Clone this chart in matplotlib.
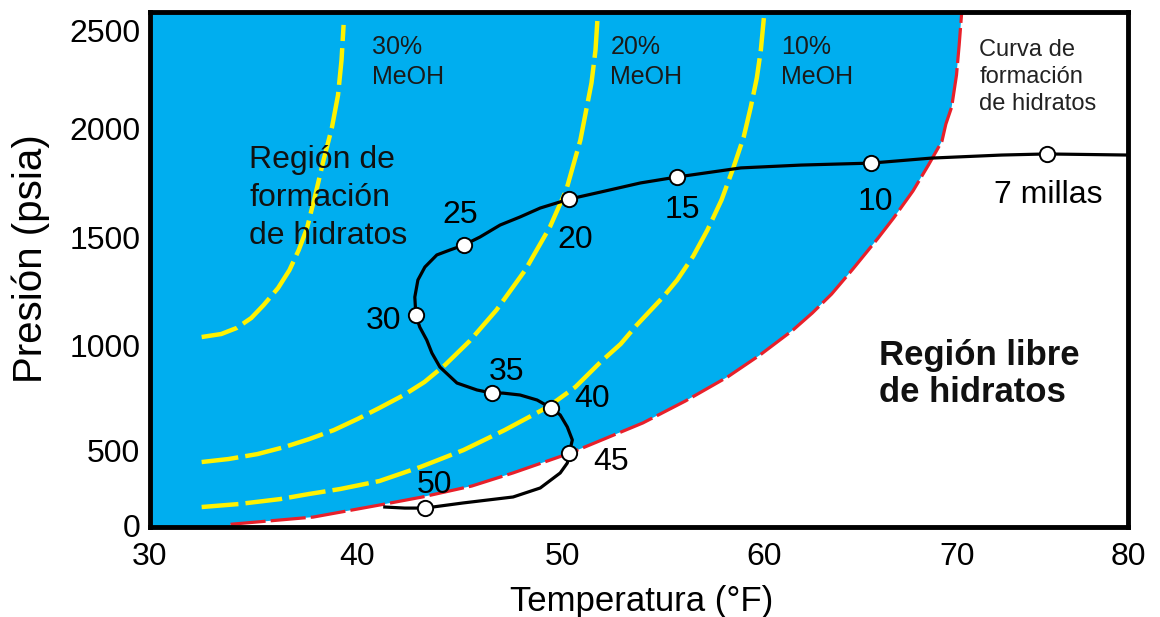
import numpy as np
import matplotlib
matplotlib.use('Agg')
import matplotlib.pyplot as plt

plt.rcParams['font.family'] = ['Liberation Sans', 'DejaVu Sans']

# Printed axis calibration: the tick spacing of the original diagram is not even,
# so both axes use a piecewise-linear scale through these anchors.
temp_ticks = [30, 40, 50, 60, 70, 80]
temp_marks = [151, 357, 562, 763, 956, 1126]
pres_ticks = [-500, 0, 500, 1000, 1500, 2000, 2500, 3000]
pres_marks = [-75, 0, 75, 180, 288, 397, 495, 593]

# Hydrate formation curve (°F, psia)
T_hyd = [33.9, 37.9, 41.1, 43.2, 45.6, 47.6, 50.4, 54.0, 56.1, 58.2, 59.8, 61.5,
         62.5, 63.5, 64.6, 65.9, 66.7, 67.7, 68.5, 69.2, 69.4, 69.7, 69.95,
         70.1, 70.25]
P_hyd = [5, 53, 133, 187, 260, 347, 480, 629, 733, 848, 952, 1069,
         1148, 1236, 1352, 1495, 1587, 1711, 1830, 1940, 2020, 2107, 2270,
         2423, 2592]

# Hydrate curves with methanol
T_10 = [32.5, 34.3, 36.3, 37.7, 39.2, 41.1, 43.1, 45.2, 47.2, 49.3, 50.65, 51.9, 52.9,
        53.7, 55.0, 55.7, 56.5, 57.2, 57.9, 58.5, 59.0, 59.35, 59.65, 59.85, 60.0]
P_10 = [120, 140, 173, 207, 240, 293, 387, 500, 595, 705, 800, 919, 1005,
        1093, 1222, 1301, 1412, 1532, 1670, 1821, 1959, 2107, 2255, 2398, 2561]
T_20 = [32.5, 33.8, 35.2, 36.5, 37.7, 38.9, 40.05, 41.1, 42.3, 43.3, 44.3, 45.5,
        46.8, 48.2, 49.4, 50.2, 50.9, 51.45, 51.65, 51.75]
P_20 = [420, 440, 473, 514, 552, 595, 648, 700, 762, 824, 905, 1019,
        1162, 1347, 1546, 1716, 1945, 2230, 2398, 2561]
T_30 = [32.5, 33.45, 34.2, 34.9, 35.5, 36.2, 36.75, 37.2, 37.6, 38.0, 38.4,
        38.8, 39.1, 39.27, 39.37]
P_30 = [1037, 1051, 1079, 1125, 1185, 1264, 1347, 1440, 1541, 1693, 1853,
        2000, 2168, 2347, 2526]

# Pipeline pressure/temperature profile
T_line = [41.37, 42.34, 43.32, 45.17, 46.39, 47.61, 48.93, 49.9, 50.25, 50.35,
          50.5, 50.25, 49.9, 49.46, 48.78, 47.95, 47.12, 46.59, 45.85, 44.88,
          44.05, 43.66, 43.41, 43.07, 42.88, 42.83, 42.98, 43.32, 43.9, 44.54,
          45.22, 46.0, 46.98, 47.95, 48.93, 50.35, 51.89, 53.88, 55.67, 58.86,
          61.92, 65.54, 68.65, 72.59, 75.24, 80.0]
P_line = [120, 113, 113, 147, 167, 187, 247, 347, 413, 480,
          548, 610, 667, 700, 738, 762, 771, 771, 786, 819,
          895, 962, 1023, 1083, 1139, 1222, 1301, 1361, 1417, 1440,
          1463, 1500, 1555, 1592, 1633, 1674, 1706, 1748, 1775, 1817,
          1830, 1839, 1862, 1876, 1881, 1876]

# Distance markers along the line
mile_labels = ['50', '45', '40', '35', '30', '25', '20', '15', '10', '7 millas']
mile_T = [43.32, 50.35, 49.46, 46.59, 42.88, 45.22, 50.35, 55.67, 65.54, 75.24]
mile_P = [113, 480, 700, 771, 1139, 1463, 1674, 1775, 1839, 1881]


def warp(ticks, marks):
    fwd = lambda v: np.interp(v, ticks, marks)
    inv = lambda s: np.interp(s, marks, ticks)
    return fwd, inv


fig = plt.figure(figsize=(11.6, 6.17), dpi=100)
ax = fig.add_axes([0.1293, 0.1459, 0.8431, 0.8347])
ax.set_xscale('function', functions=warp(temp_ticks, temp_marks))
ax.set_yscale('function', functions=warp(pres_ticks, pres_marks))
x0, x1 = 30, 80
y0, y1 = -13, 2592
ax.set_xlim(x0, x1)
ax.set_ylim(y0, y1)

# hydrate region: everything left of the formation curve
ax.fill([x0, T_hyd[0]] + T_hyd + [x0], [y0, y0] + P_hyd + [y1],
        color='#00aeef', lw=0, zorder=1)

for T, P in [(T_30, P_30), (T_20, P_20), (T_10, P_10)]:
    ax.plot(T, P, color='#fff200', lw=3.2, dashes=(8.3, 1.6), zorder=2)
ax.plot(T_hyd, P_hyd, color='#e8202a', lw=2.3, dashes=(11, 1.6), zorder=3)

ax.plot(T_line, P_line, color='black', lw=2.3, zorder=4)
ax.plot(mile_T, mile_P, 'o', ms=11, mfc='white', mec='black', mew=1.4, zorder=5)

offsets = [(10, 23), (42, -9), (41, 9), (14, 21), (-32, -6), (-4, 30),
           (6, -41), (6, -33), (4, -39), (1, -41)]
for lab, t, p, off in zip(mile_labels, mile_T, mile_P, offsets):
    ax.annotate(lab, (t, p), xytext=off, textcoords='offset pixels',
                ha='center', va='center', fontsize=23, zorder=6)

for t, pct in [(40.73, '30%'), (52.39, '20%'), (60.88, '10%')]:
    ax.text(t, 2337, pct + '\nMeOH', fontsize=18, ha='left', va='center',
            linespacing=1.3, color='#1a1a1a', zorder=6)

ax.text(34.81, 1680, 'Región de\nformación\nde hidratos', fontsize=23,
        ha='left', va='center', linespacing=1.34, color='#111111', zorder=6)
ax.text(65.96, 862, 'Región libre\nde hidratos', fontsize=25, fontweight='bold',
        ha='left', va='center', linespacing=1.17, color='#111111', zorder=6)
ax.text(71.29, 2260, 'Curva de\nformación\nde hidratos', fontsize=17,
        ha='left', va='center', linespacing=1.3, color='#222222', zorder=6)

ax.set_xticks(temp_ticks)
ax.set_yticks([0, 500, 1000, 1500, 2000, 2500])
ax.tick_params(length=0, labelsize=23)
ax.tick_params(axis='x', pad=11)
ax.tick_params(axis='y', pad=7)
ax.set_xlabel('Temperatura (°F)', fontsize=25)
ax.set_ylabel('Presión (psia)', fontsize=29)
ax.xaxis.set_label_coords(0.503, -0.112)
ax.yaxis.set_label_coords(-0.102, 0.522)
for s in ax.spines.values():
    s.set_linewidth(3.5)
    s.set_zorder(7)

fig.savefig('out.png', dpi=100, facecolor='white')
